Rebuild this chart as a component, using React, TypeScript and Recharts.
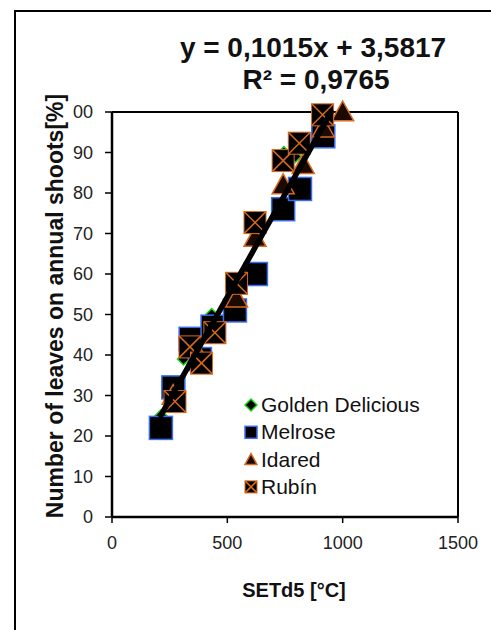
import React from "react";
import { ScatterChart, Scatter, XAxis, YAxis, ReferenceLine } from "recharts";

const xTicks = [0, 500, 1000, 1500];
const yTicks = [0, 10, 20, 30, 40, 50, 60, 70, 80, 90, 100];

const golden = [
  { x: 212, y: 25 }, { x: 265, y: 30 }, { x: 310, y: 39 }, { x: 380, y: 40 },
  { x: 432, y: 50 }, { x: 540, y: 57 }, { x: 630, y: 70 }, { x: 745, y: 90 },
  { x: 795, y: 89 }, { x: 915, y: 99 }, { x: 1000, y: 100 },
];
const melrose = [
  { x: 212, y: 22 }, { x: 266, y: 32 }, { x: 341, y: 44 }, { x: 381, y: 39 },
  { x: 436, y: 47 }, { x: 533, y: 51 }, { x: 624, y: 60 }, { x: 742, y: 76 },
  { x: 815, y: 81 }, { x: 916, y: 94 },
];
const idared = [
  { x: 265, y: 30 }, { x: 374, y: 40 }, { x: 440, y: 46 }, { x: 540, y: 54 },
  { x: 620, y: 69 }, { x: 742, y: 82 }, { x: 829, y: 87 }, { x: 916, y: 96 },
  { x: 1000, y: 100 },
];
const rubin = [
  { x: 273, y: 28.5 }, { x: 338, y: 42 }, { x: 388, y: 38 }, { x: 446, y: 45.5 },
  { x: 540, y: 57.7 }, { x: 620, y: 72.7 }, { x: 742, y: 88 }, { x: 812, y: 92.3 },
  { x: 913, y: 99.3 },
];
const trend = [
  { x: 212, y: 25.1 },
  { x: 950, y: 100 },
];
const seriesNames = ["Golden Delicious", "Melrose", "Idared", "Rubín"];
const equationText = "y = 0,1015x + 3,5817";
const r2Text = "R² = 0,9765";
const xTitle = "SETd5 [°C]";
const yTitle = "Number of leaves on annual shoots[%]";

const GREEN = "#18d818";
const BLUE = "#3a6cf0";
const ORANGE = "#d8691e";
const FONT = "'Liberation Sans', Arial, sans-serif";

const Diamond = ({ cx, cy, s = 6 }: any) =>
  cx == null ? null : (
    <polygon
      points={`${cx},${cy - s} ${cx + s},${cy} ${cx},${cy + s} ${cx - s},${cy}`}
      fill="#000"
      stroke={GREEN}
      strokeWidth={1.5}
    />
  );
const Square = ({ cx, cy, s = 11.5 }: any) =>
  cx == null ? null : (
    <rect x={cx - s} y={cy - s} width={2 * s} height={2 * s} fill="#000" stroke={BLUE} strokeWidth={1.5} />
  );
const Triangle = ({ cx, cy, s = 11 }: any) =>
  cx == null ? null : (
    <polygon
      points={`${cx},${cy - s} ${cx + s},${cy + s * 0.8} ${cx - s},${cy + s * 0.8}`}
      fill="#1a0a00"
      stroke={ORANGE}
      strokeWidth={1.5}
    />
  );
const XSquare = ({ cx, cy, s = 11 }: any) =>
  cx == null ? null : (
    <g>
      <rect x={cx - s} y={cy - s} width={2 * s} height={2 * s} fill="#000" stroke={ORANGE} strokeWidth={1} />
      <line x1={cx - s} y1={cy - s} x2={cx + s} y2={cy + s} stroke={ORANGE} strokeWidth={1.5} />
      <line x1={cx - s} y1={cy + s} x2={cx + s} y2={cy - s} stroke={ORANGE} strokeWidth={1.5} />
    </g>
  );

export default function App() {
  const legendShapes = [
    (cx: number, cy: number) => <Diamond cx={cx} cy={cy} s={6} />,
    (cx: number, cy: number) => <Square cx={cx} cy={cy} s={6} />,
    (cx: number, cy: number) => <Triangle cx={cx} cy={cy} s={6} />,
    (cx: number, cy: number) => <XSquare cx={cx} cy={cy} s={6} />,
  ];
  return (
    <div style={{ position: "absolute", left: 0, top: 0, width: 491, height: 630, overflow: "hidden", background: "#fff" }}>
      <div
        style={{
          position: "absolute",
          left: 14,
          top: 10,
          width: 600,
          height: 700,
          borderLeft: "2px solid #000",
          borderTop: "2px solid #000",
        }}
      />
      <div style={{ position: "absolute", left: 0, top: 0 }}>
        <ScatterChart width={491} height={630} margin={{ top: 112, right: 33, left: 0, bottom: 0 }}>
          <XAxis
            type="number"
            dataKey="x"
            domain={[0, 1500]}
            ticks={xTicks}
            height={113}
            tickSize={6}
            tickMargin={13}
            axisLine={{ stroke: "#000", strokeWidth: 2.5 }}
            tickLine={{ stroke: "#000", strokeWidth: 1.5 }}
            tick={{ fontSize: 18, fill: "#222", fontFamily: FONT }}
          />
          <YAxis
            type="number"
            dataKey="y"
            domain={[0, 100]}
            ticks={yTicks}
            width={112}
            tickSize={7}
            tickMargin={12}
            axisLine={{ stroke: "#000", strokeWidth: 2.5 }}
            tickLine={{ stroke: "#000", strokeWidth: 1.5 }}
            tick={{ fontSize: 18, fill: "#222", fontFamily: FONT }}
          />
          <ReferenceLine y={100} stroke="#000" strokeWidth={2} />
          <ReferenceLine x={1500} stroke="#000" strokeWidth={2} />
          <Scatter name={seriesNames[0]} data={golden} isAnimationActive={false} shape={(p: any) => <Diamond cx={p.cx} cy={p.cy} />} />
          <Scatter name={seriesNames[1]} data={melrose} isAnimationActive={false} shape={(p: any) => <Square cx={p.cx} cy={p.cy} />} />
          <Scatter name={seriesNames[2]} data={idared} isAnimationActive={false} shape={(p: any) => <Triangle cx={p.cx} cy={p.cy} />} />
          <Scatter name={seriesNames[3]} data={rubin} isAnimationActive={false} shape={(p: any) => <XSquare cx={p.cx} cy={p.cy} />} />
          <Scatter
            name="trend"
            data={trend}
            isAnimationActive={false}
            line={{ stroke: "#000", strokeWidth: 5.5, strokeLinecap: "round" }}
            shape={() => <g />}
            legendType="none"
          />
        </ScatterChart>
      </div>
      <svg width={491} height={630} style={{ position: "absolute", left: 0, top: 0, pointerEvents: "none" }}>
        <text x={313} y={57} textAnchor="middle" fontFamily={FONT} fontWeight="bold" fontSize={28} fill="#111">
          {equationText}
        </text>
        <text x={316} y={89} textAnchor="middle" fontFamily={FONT} fontWeight="bold" fontSize={28} fill="#111">
          {r2Text}
        </text>
        <g transform="translate(63,306) rotate(-90)">
          <rect x={-230} y={-20} width={460} height={30} fill="#fff" />
          <text x={0} y={0} textAnchor="middle" fontFamily={FONT} fontWeight="bold" fontSize={23} fill="#111">
            {yTitle}
          </text>
        </g>
        <text x={294} y={597} textAnchor="middle" fontFamily={FONT} fontWeight="bold" fontSize={20} fill="#111">
          {xTitle}
        </text>
        {seriesNames.map((n, i) => (
          <g key={n}>
            {legendShapes[i](251, 405 + i * 27.3)}
            <text x={261} y={405 + i * 27.3 + 7} fontFamily={FONT} fontSize={21} fill="#111">
              {n}
            </text>
          </g>
        ))}
      </svg>
    </div>
  );
}
